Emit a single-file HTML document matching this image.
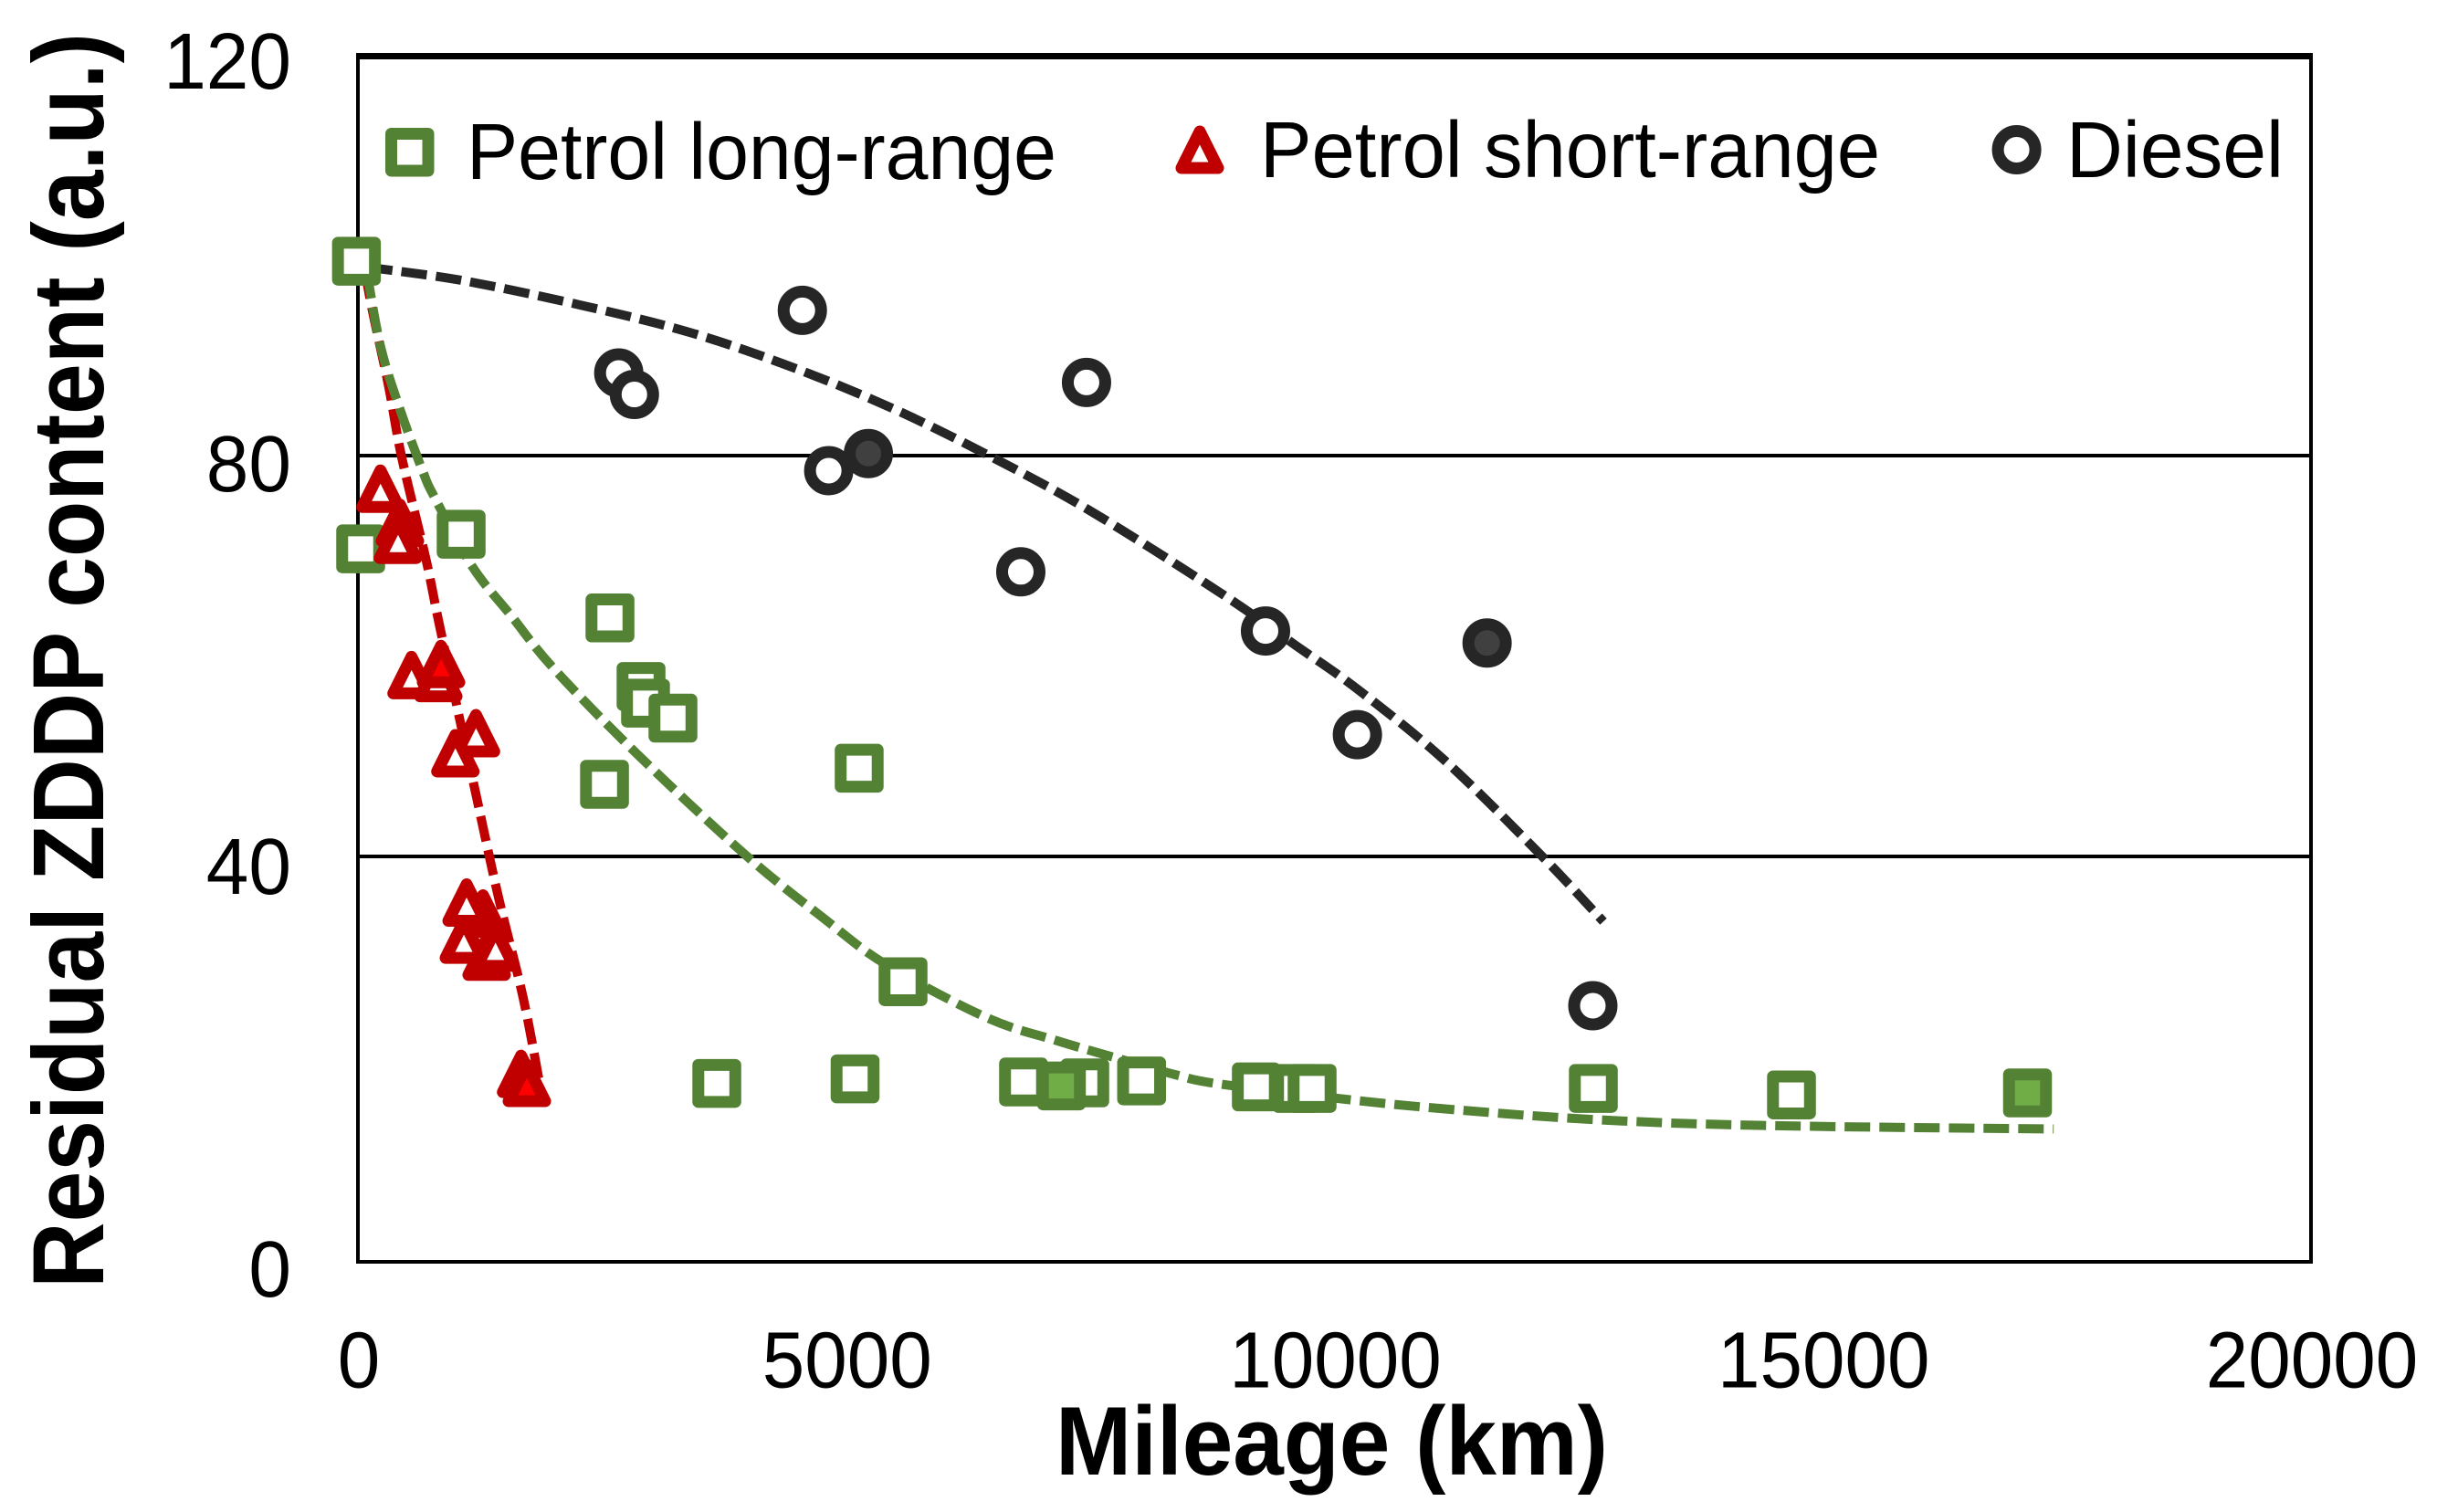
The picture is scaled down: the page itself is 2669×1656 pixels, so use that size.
<!DOCTYPE html>
<html lang="en">
<head>
<meta charset="utf-8">
<title>Residual ZDDP content vs mileage</title>
<style>
html,body{margin:0;padding:0;background:#fff;}
svg{display:block;}
text{font-family:"Liberation Sans",sans-serif;fill:#000;}
</style>
</head>
<body>
<svg id="chart" xmlns="http://www.w3.org/2000/svg" width="2669" height="1656" viewBox="0 0 2669 1656">
  <rect x="0" y="0" width="2669" height="1656" fill="#fff"/>
  <g id="grid"></g>
  <g id="frame">
    <line x1="392" y1="58" x2="392" y2="1384" stroke="#000" stroke-width="4"/>
    <line x1="2531" y1="58" x2="2531" y2="1384" stroke="#000" stroke-width="4"/>
    <line x1="392" y1="61.5" x2="2533" y2="61.5" stroke="#000" stroke-width="7"/>
    <line x1="390" y1="1382" x2="2533" y2="1382" stroke="#000" stroke-width="4"/>
  </g>
  <g id="y-ticks"></g>
  <g id="x-ticks"></g>
  <text transform="translate(113,1411) rotate(-90)" font-size="110" font-weight="700" textLength="1375" lengthAdjust="spacingAndGlyphs">Residual ZDDP content (a.u.)</text>
  <text x="1156" y="1615" font-size="107" font-weight="700" textLength="605" lengthAdjust="spacingAndGlyphs">Mileage (km)</text>
  <g id="trends"></g>
  <g id="markers"></g>
  <g id="legend">
    <g>
      <rect x="428.5" y="146.5" width="40.5" height="40.5" fill="#fff" stroke="#548235" stroke-width="13" stroke-linejoin="round"/>
      <text x="511" y="196" font-size="87" textLength="646" lengthAdjust="spacingAndGlyphs">Petrol long-range</text>
    </g>
    <g>
      <path d="M1314 144L1334 184L1294 184Z" fill="#fff" stroke="#C00000" stroke-width="13" stroke-linejoin="round"/>
      <text x="1380" y="194" font-size="87" textLength="679" lengthAdjust="spacingAndGlyphs">Petrol short-range</text>
    </g>
    <g>
      <circle cx="2208.6" cy="164" r="20.5" fill="#fff" stroke="#262626" stroke-width="13"/>
      <text x="2263" y="194" font-size="87" textLength="238" lengthAdjust="spacingAndGlyphs">Diesel</text>
    </g>
  </g>
</svg>
<script>
// ---- chart data (km, a.u.) ----
const xTicks = [0, 5000, 10000, 15000, 20000];
const yTicks = [0, 40, 80, 120];
const gridValues = [40, 80];

const longHollowX = [-15, 28, 1057, 2581, 2899, 2945, 3226, 5133, 2525, 5582, 3675, 5091, 6816, 7443, 8025, 9200, 9612, 9771, 12651, 14680];
const longHollowY = [99.4, 70.7, 72.15, 63.8, 56.96, 55.3, 53.8, 48.8, 47.2, 27.5, 17.35, 17.8, 17.5, 17.4, 17.6, 17.0, 16.85, 16.85, 16.85, 16.2];
const longFilledX = [7204, 17097];
const longFilledY = [17.1, 16.4];

const shortSolidX = [430, 1281, 1318, 1671];
const shortSolidY = [73.3, 34.3, 30.0, 18.3];
const shortHollowX = [231, 411, 549, 823, 1209, 998, 1113, 1085, 1409];
const shortHollowY = [76.7, 71.6, 58.1, 57.8, 52.3, 50.3, 35.4, 31.7, 30.9];
const shortBrightX = [851, 1730];
const shortBrightY = [59.2, 17.4];

const dieselHollowX = [4551, 2671, 2831, 7461, 4821, 6788, 9294, 10235, 12646];
const dieselHollowY = [94.5, 88.25, 86.1, 87.3, 78.5, 68.4, 62.5, 52.15, 25.1];
const dieselFilledX = [5227, 11563];
const dieselFilledY = [80.2, 61.3];

const trendShortX = [75, 156, 315, 449, 698, 839, 1213, 1440, 1692, 1867];
const trendShortY = [98.2, 94.1, 86.9, 79.8, 69.6, 62.9, 46.0, 35.9, 25.9, 17.0];
const trendLongX = [94, 234, 435, 673, 776, 1166, 1571, 2010, 2861, 3974, 4773, 5410, 6442, 7162, 7798, 8378, 8817, 10173, 11201, 12641, 14390, 17365];
const trendLongY = [98.2, 90.8, 84.5, 78.2, 76.0, 69.0, 64.0, 58.7, 50.2, 40.1, 33.8, 29.2, 23.9, 21.6, 19.8, 18.2, 17.3, 15.7, 14.75, 13.75, 13.15, 12.8];
const trendDieselX = [94, 1113, 2468, 3500, 4535, 5500, 6442, 7480, 8817, 9612, 10248, 11127, 12118, 12754];
const trendDieselY = [98.8, 97.4, 94.6, 92.0, 88.5, 84.6, 80.1, 74.6, 66.4, 61.0, 56.6, 49.6, 40.1, 33.5];

// ---- axis functions ----
function xScale(km) { return 392 + km * 0.10695; }
function yScale(v) { return 938 + (40 - v) * 10.975; }
function yLabelBaseline(v) { return 1420 - v * 11.025; }

const NS = 'http://www.w3.org/2000/svg';
function make(tag, parent) {
  const el = document.createElementNS(NS, tag);
  parent.appendChild(el);
  return el;
}

const gridGroup = document.getElementById('grid');
gridValues.forEach(function (v) {
  const el = make('line', gridGroup);
  
  
  el.setAttribute('x1', 392);
  el.setAttribute('x2', 2531);
  el.setAttribute('y1', yScale(v));
  el.setAttribute('y2', yScale(v));
  el.setAttribute('stroke', '#000');
  el.setAttribute('stroke-width', 4);
});

const yTickGroup = document.getElementById('y-ticks');
yTicks.forEach(function (v) {
  const el = make('text', yTickGroup);
  
  
  el.setAttribute('x', 319);
  el.setAttribute('y', yLabelBaseline(v));
  el.setAttribute('text-anchor', 'end');
  el.setAttribute('font-size', 87);
  el.setAttribute('textLength', String(v).length * 46.6);
  el.setAttribute('lengthAdjust', 'spacingAndGlyphs');
  el.textContent = String(v);
});

const xTickGroup = document.getElementById('x-ticks');
xTicks.forEach(function (km) {
  const el = make('text', xTickGroup);
  
  
  el.setAttribute('x', xScale(km) + 1);
  el.setAttribute('y', 1519.5);
  el.setAttribute('text-anchor', 'middle');
  el.setAttribute('font-size', 87);
  el.setAttribute('textLength', String(km).length * 46.5);
  el.setAttribute('lengthAdjust', 'spacingAndGlyphs');
  el.textContent = String(km);
});

function smoothPath(xs, ys) {
  const p = xs.map(function (x, i) { return [xScale(x), yScale(ys[i])]; });
  let d = 'M' + p[0][0] + ' ' + p[0][1];
  for (let i = 0; i < p.length - 1; i++) {
    const a = p[Math.max(0, i - 1)], b = p[i], c = p[i + 1], e = p[Math.min(p.length - 1, i + 2)];
    d += 'C' + (b[0] + (c[0] - a[0]) / 6) + ' ' + (b[1] + (c[1] - a[1]) / 6) + ' ' +
      (c[0] - (e[0] - b[0]) / 6) + ' ' + (c[1] - (e[1] - b[1]) / 6) + ' ' + c[0] + ' ' + c[1];
  }
  return d;
}

const trendGroup = document.getElementById('trends');
function drawTrend(name, xs, ys, color) {
  const el = make('path', trendGroup);
  
  
  el.setAttribute('d', smoothPath(xs, ys));
  el.setAttribute('fill', 'none');
  el.setAttribute('stroke', color);
  el.setAttribute('stroke-width', 10);
  el.setAttribute('stroke-dasharray', '28 10');
}
drawTrend('trendline-diesel', trendDieselX, trendDieselY, '#262626');
drawTrend('trendline-petrol-short-range', trendShortX, trendShortY, '#C00000');
drawTrend('trendline-petrol-long-range', trendLongX, trendLongY, '#548235');

const markerGroup = document.getElementById('markers');
function drawSquares(xs, ys, fill) {
  xs.forEach(function (x, i) {
    const el = make('rect', markerGroup);
    
    
    el.setAttribute('x', xScale(x) - 20.25);
    el.setAttribute('y', yScale(ys[i]) - 20.25);
    el.setAttribute('width', 40.5);
    el.setAttribute('height', 40.5);
    el.setAttribute('fill', fill);
    el.setAttribute('stroke', '#548235');
    el.setAttribute('stroke-width', 13);
    el.setAttribute('stroke-linejoin', 'round');
  });
}
function drawTriangles(xs, ys, fill) {
  xs.forEach(function (x, i) {
    const cx = xScale(x), cy = yScale(ys[i]);
    const el = make('path', markerGroup);
    
    
    el.setAttribute('d', 'M' + cx + ' ' + (cy - 20) + 'L' + (cx + 20) + ' ' + (cy + 20) + 'L' + (cx - 20) + ' ' + (cy + 20) + 'Z');
    el.setAttribute('fill', fill);
    el.setAttribute('stroke', '#C00000');
    el.setAttribute('stroke-width', 13);
    el.setAttribute('stroke-linejoin', 'round');
  });
}
function drawCircles(xs, ys, fill) {
  xs.forEach(function (x, i) {
    const el = make('circle', markerGroup);
    
    
    el.setAttribute('cx', xScale(x));
    el.setAttribute('cy', yScale(ys[i]));
    el.setAttribute('r', 20.5);
    el.setAttribute('fill', fill);
    el.setAttribute('stroke', '#262626');
    el.setAttribute('stroke-width', 13);
  });
}
drawSquares(longHollowX, longHollowY, '#fff');
drawSquares(longFilledX, longFilledY, '#70AD47');
drawTriangles(shortSolidX, shortSolidY, '#C00000');
drawTriangles(shortHollowX, shortHollowY, '#fff');
drawTriangles(shortBrightX, shortBrightY, '#FF0000');
drawCircles(dieselHollowX, dieselHollowY, '#fff');
drawCircles(dieselFilledX, dieselFilledY, '#404040');
</script>
</body>
</html>
